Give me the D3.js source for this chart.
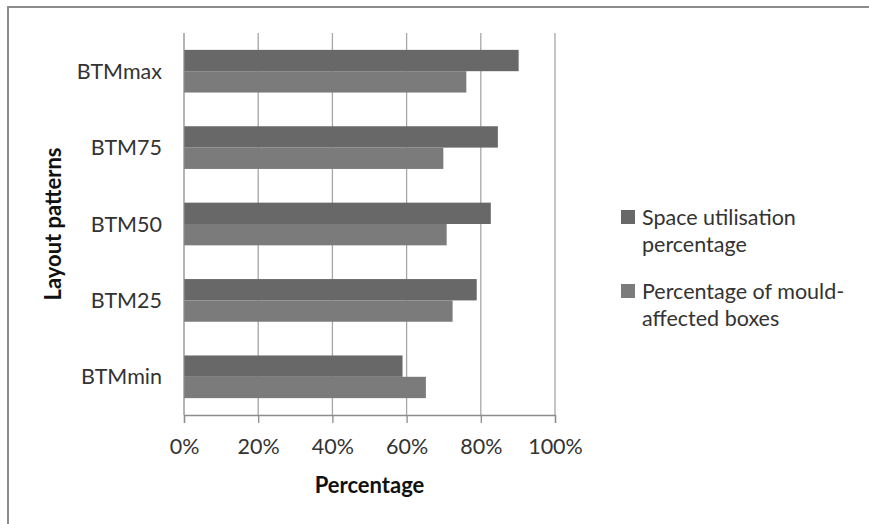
<!DOCTYPE html>
<html>
<head>
<meta charset="utf-8">
<script src="https://cdn.jsdelivr.net/npm/d3@7"></script>
<style>
  html, body { margin: 0; padding: 0; background: #fff; }
  svg { display: block; font-family: Lato, "Open Sans", sans-serif; }
</style>
</head>
<body>
<svg id="chart" width="869" height="524"></svg>
<script>
// Layout patterns, listed top to bottom
const categories = ["BTMmax", "BTM75", "BTM50", "BTM25", "BTMmin"];
const seriesNames = ["Space utilisation percentage", "Percentage of mould-affected boxes"];
// Values in percent, same order as categories
const spaceUtilisation = [90.2, 84.6, 82.7, 78.9, 58.9];
const mouldAffected = [76.1, 69.9, 70.8, 72.4, 65.2];
const xTicks = [0, 20, 40, 60, 80, 100];
const legendLines = [["Space utilisation", "percentage"], ["Percentage of mould-", "affected boxes"]];
const seriesColors = ["#686868", "#7b7b7b"];

const FONT = 21.5;
const svg = d3.select("#chart");

// Outer chart frame (runs off the right and bottom edges)
svg.append("rect")
  .attr("x", 8).attr("y", 7)
  .attr("width", 900).attr("height", 560)
  .attr("fill", "#fff")
  .attr("stroke", "#8c8c8c")
  .attr("stroke-width", 2);

const plot = { left: 184, right: 555, top: 33, bottom: 415 };

const x = d3.scaleLinear().domain([0, 100]).range([plot.left, plot.right]);
const y = d3.scaleBand().domain(categories).range([plot.top, plot.bottom]).padding(0);
const ySub = d3.scaleBand().domain(seriesNames)
  .range([0, y.bandwidth()]).paddingInner(0).paddingOuter(0.79);

// Vertical gridlines
svg.append("g")
  .selectAll("line")
  .data(xTicks.filter(t => t > 0))
  .join("line")
  .attr("x1", d => x(d)).attr("x2", d => x(d))
  .attr("y1", plot.top).attr("y2", plot.bottom)
  .attr("stroke", "#a6a6a6")
  .attr("stroke-width", 1.3);

// Bars
const rows = categories.map((c, i) => ({
  cat: c,
  vals: [
    { s: seriesNames[0], v: spaceUtilisation[i], color: seriesColors[0] },
    { s: seriesNames[1], v: mouldAffected[i], color: seriesColors[1] }
  ]
}));

svg.append("g")
  .selectAll("g")
  .data(rows)
  .join("g")
  .attr("transform", d => `translate(0,${y(d.cat)})`)
  .selectAll("rect")
  .data(d => d.vals)
  .join("rect")
  .attr("x", x(0))
  .attr("y", d => ySub(d.s))
  .attr("width", d => x(d.v) - x(0))
  .attr("height", ySub.bandwidth())
  .attr("fill", d => d.color);

// X axis
const xAxis = svg.append("g")
  .attr("transform", `translate(0,${plot.bottom})`)
  .call(d3.axisBottom(x).tickValues(xTicks).tickFormat(d => d + "%").tickSize(8).tickPadding(16));
xAxis.select(".domain").attr("stroke", "#8c8c8c").attr("stroke-width", 1.3);
xAxis.selectAll(".tick line").attr("stroke", "#8c8c8c").attr("stroke-width", 1.3);
xAxis.selectAll(".tick text")
  .attr("font-size", FONT)
  .attr("fill", "#333")
  .attr("font-family", "Lato, sans-serif");

// Y axis line
svg.append("line")
  .attr("x1", plot.left).attr("x2", plot.left)
  .attr("y1", plot.top).attr("y2", plot.bottom)
  .attr("stroke", "#8c8c8c").attr("stroke-width", 1.3);

// Category labels
svg.append("g")
  .selectAll("text")
  .data(categories)
  .join("text")
  .attr("x", 162)
  .attr("y", d => y(d) + y.bandwidth() / 2)
  .attr("dy", "0.35em")
  .attr("text-anchor", "end")
  .attr("font-size", FONT)
  .attr("fill", "#333")
  .text(d => d);

// Axis titles
svg.append("text")
  .attr("x", (plot.left + plot.right) / 2)
  .attr("y", 485)
  .attr("dy", "0.35em")
  .attr("text-anchor", "middle")
  .attr("font-size", 22)
  .attr("font-weight", "bold")
  .attr("fill", "#111")
  .text("Percentage");

svg.append("text")
  .attr("transform", `translate(53,${(plot.top + plot.bottom) / 2}) rotate(-90)`)
  .attr("dy", "0.35em")
  .attr("text-anchor", "middle")
  .attr("font-size", 22)
  .attr("font-weight", "bold")
  .attr("fill", "#111")
  .text("Layout patterns");

// Legend
const legend = svg.append("g");
const legendTop = [217, 291];
legendLines.forEach((lines, i) => {
  const g = legend.append("g");
  g.append("rect")
    .attr("x", 621).attr("y", legendTop[i] - 7)
    .attr("width", 14).attr("height", 14)
    .attr("fill", seriesColors[i]);
  const t = g.append("text")
    .attr("x", 642).attr("y", legendTop[i])
    .attr("font-size", FONT)
    .attr("fill", "#333");
  lines.forEach((ln, j) => {
    t.append("tspan")
      .attr("x", 642)
      .attr("y", legendTop[i] + j * 27)
      .attr("dy", "0.35em")
      .text(ln);
  });
});
</script>
</body>
</html>
